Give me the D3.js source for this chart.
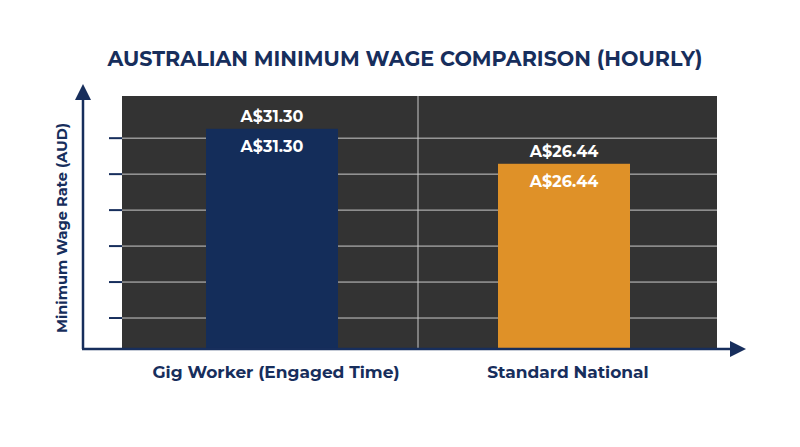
<!DOCTYPE html>
<html>
<head>
<meta charset="utf-8">
<script src="https://cdn.jsdelivr.net/npm/d3@7"></script>
<style>
  body { margin: 0; background: #fff; }
  text { font-family: Montserrat, "Open Sans", "Noto Sans", sans-serif; font-weight: 700; }
</style>
</head>
<body>
<div id="chart"></div>
<script>
var width = 800,
  height = 447;

var categories = ["Gig Worker (Engaged Time)", "Standard National"];
var wages = [31.30, 26.44];
var barLabels = ["A$31.30", "A$26.44"];
var gridTicks = [5, 10, 15, 20, 25, 30];

var navy = "#172e5c",
  barColors = ["#142d5a", "#df9128"];

var plot = { left: 122, right: 717, top: 96, bottom: 348 };

var x = d3.scaleBand()
  .domain(categories)
  .range([126, 710]);

var y = d3.scaleLinear()
  .domain([0, 36])
  .range([354, 95]);

var barWidth = 132;

var svg = d3.select("#chart")
  .append("svg")
  .attr("width", width)
  .attr("height", height);

// title
svg.append("text")
  .attr("x", 405)
  .attr("y", 66)
  .attr("text-anchor", "middle")
  .attr("fill", navy)
  .attr("font-size", 21)
  .attr("textLength", 595)
  .attr("lengthAdjust", "spacingAndGlyphs")
  .text("AUSTRALIAN MINIMUM WAGE COMPARISON (HOURLY)");

// dark plot background
svg.append("rect")
  .attr("x", plot.left)
  .attr("y", plot.top)
  .attr("width", plot.right - plot.left)
  .attr("height", plot.bottom - plot.top)
  .attr("fill", "#333333");

// grid
svg.append("g")
  .selectAll("line")
  .data(gridTicks)
  .enter()
  .append("line")
  .attr("x1", plot.left)
  .attr("x2", plot.right)
  .attr("y1", function (d) { return y(d); })
  .attr("y2", function (d) { return y(d); })
  .attr("stroke", "#cacaca")
  .attr("stroke-width", 1);

var midX = (x(categories[0]) + x.bandwidth() + x(categories[1])) / 2;
svg.append("line")
  .attr("x1", midX)
  .attr("x2", midX)
  .attr("y1", plot.top)
  .attr("y2", plot.bottom)
  .attr("stroke", "#cacaca")
  .attr("stroke-width", 1);

// tick marks on the left
svg.append("g")
  .selectAll("line")
  .data(gridTicks)
  .enter()
  .append("line")
  .attr("x1", 109)
  .attr("x2", plot.left)
  .attr("y1", function (d) { return y(d); })
  .attr("y2", function (d) { return y(d); })
  .attr("stroke", navy)
  .attr("stroke-width", 2);

// bars
svg.append("g")
  .selectAll("rect")
  .data(wages)
  .enter()
  .append("rect")
  .attr("x", function (d, i) { return x(categories[i]) + x.bandwidth() / 2 - barWidth / 2; })
  .attr("y", function (d) { return y(d); })
  .attr("width", barWidth)
  .attr("height", function (d) { return plot.bottom - y(d); })
  .attr("fill", function (d, i) { return barColors[i]; });

// value labels above and inside
var labels = svg.append("g")
  .attr("fill", "#fff")
  .attr("font-size", 16)
  .attr("text-anchor", "middle");

labels.selectAll("text.above")
  .data(wages)
  .enter()
  .append("text")
  .attr("class", "above")
  .attr("x", function (d, i) { return x(categories[i]) + x.bandwidth() / 2; })
  .attr("y", function (d) { return y(d) - 7; })
  .text(function (d, i) { return barLabels[i]; });

labels.selectAll("text.inside")
  .data(wages)
  .enter()
  .append("text")
  .attr("class", "inside")
  .attr("x", function (d, i) { return x(categories[i]) + x.bandwidth() / 2; })
  .attr("y", function (d) { return y(d) + 23; })
  .text(function (d, i) { return barLabels[i]; });

// axes with arrows
svg.append("line")
  .attr("x1", 83).attr("x2", 83)
  .attr("y1", 98).attr("y2", 349)
  .attr("stroke", navy).attr("stroke-width", 2.5);

svg.append("path")
  .attr("d", "M83,84 L91,100 L75,100 Z")
  .attr("fill", navy);

svg.append("line")
  .attr("x1", 82).attr("x2", 733)
  .attr("y1", 349).attr("y2", 349)
  .attr("stroke", navy).attr("stroke-width", 2.5);

svg.append("path")
  .attr("d", "M746,349 L730,341 L730,357 Z")
  .attr("fill", navy);

// category labels
svg.append("g")
  .selectAll("text")
  .data(categories)
  .enter()
  .append("text")
  .attr("x", function (d) { return x(d) + x.bandwidth() / 2 + 4; })
  .attr("y", 378)
  .attr("text-anchor", "middle")
  .attr("fill", navy)
  .attr("font-size", 17)
  .text(function (d) { return d; });

// y axis title
svg.append("text")
  .attr("transform", "translate(67,228) rotate(-90)")
  .attr("text-anchor", "middle")
  .attr("fill", navy)
  .attr("font-size", 15)
  .attr("textLength", 210)
  .attr("lengthAdjust", "spacingAndGlyphs")
  .text("Minimum Wage Rate (AUD)");
</script>
</body>
</html>
